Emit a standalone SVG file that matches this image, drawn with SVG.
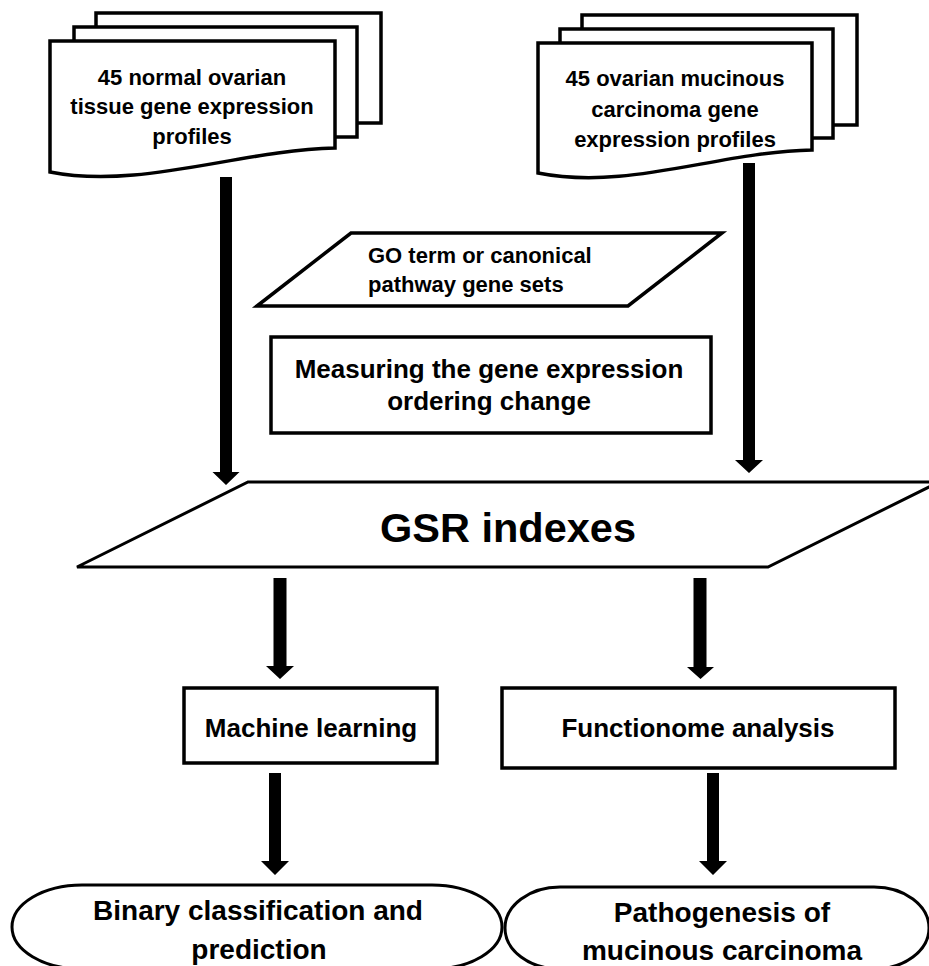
<svg xmlns="http://www.w3.org/2000/svg" width="929" height="966" viewBox="0 0 929 966">
<style>
.sh{fill:#fff;stroke:#000;stroke-width:3.5;stroke-linejoin:miter}
.thin{fill:#fff;stroke:#000;stroke-width:3}
.ar{fill:#000;stroke:none}
text{font-family:"Liberation Sans",Arial,sans-serif;font-weight:bold;fill:#000;text-anchor:middle}
.t22{font-size:22px}
.t26{font-size:26px}
.t28{font-size:28px}
</style>
<rect width="929" height="966" fill="#fff"/>

<g id="normal-profiles">
  <rect class="sh" x="96" y="13" width="285" height="110"/>
  <rect class="sh" x="74" y="27" width="283" height="110"/>
  <path class="sh" d="M50,41 H335 V148 C240,150 140,190 50,172 Z"/>
  <text class="t22" x="192" y="85">45 normal ovarian</text>
  <text class="t22" x="192" y="114">tissue gene expression</text>
  <text class="t22" x="192" y="144">profiles</text>
</g>

<g id="mucinous-profiles">
  <rect class="sh" x="582" y="15" width="275" height="110"/>
  <rect class="sh" x="560" y="29" width="273" height="109"/>
  <path class="sh" d="M538,43 H812 V150 C717,152 628,191 538,173 Z"/>
  <text class="t22" x="675" y="86">45 ovarian mucinous</text>
  <text class="t22" x="675" y="117">carcinoma gene</text>
  <text class="t22" x="675" y="147">expression profiles</text>
</g>

<g id="gene-sets">
  <polygon class="sh" points="351,233 722,233 628,306 257,306"/>
  <text class="t22" x="368" y="263" style="text-anchor:start">GO term or canonical</text>
  <text class="t22" x="368" y="292" style="text-anchor:start">pathway gene sets</text>
</g>

<g id="measuring">
  <rect class="sh" x="271" y="337" width="440" height="96"/>
  <text class="t26" x="489" y="378">Measuring the gene expression</text>
  <text class="t26" x="489" y="410">ordering change</text>
</g>

<g id="gsr">
  <polygon class="thin" points="248,482 939,482 768,567 77,567"/>
  <text x="508" y="542" style="font-size:41.5px">GSR indexes</text>
</g>

<g id="machine-learning">
  <rect class="sh" x="184" y="688" width="253" height="75"/>
  <text class="t26" x="311" y="737">Machine learning</text>
</g>

<g id="functionome">
  <rect class="sh" x="502" y="688" width="393" height="80"/>
  <text class="t26" x="698" y="737">Functionome analysis</text>
</g>

<g id="binary">
  <path class="thin" d="M82,885 H432 A70,42 0 0 1 432,969 H82 A70,42 0 0 1 82,885 Z"/>
  <text class="t28" x="258" y="920">Binary classification and</text>
  <text class="t28" x="259" y="959">prediction</text>
</g>

<g id="pathogenesis">
  <path class="thin" d="M560,887 H874 A55,41 0 0 1 874,969 H560 A55,41 0 0 1 560,887 Z"/>
  <text class="t28" x="722" y="922">Pathogenesis of</text>
  <text class="t28" x="722" y="960">mucinous carcinoma</text>
</g>

<g id="connectors">
  <polygon class="ar" points="220,177 232,177 232,472 239.5,472 226,485 212.5,472 220,472"/>
  <polygon class="ar" points="743,163 755,163 755,460 763,460 749,473 735,460 743,460"/>
  <polygon class="ar" points="273.5,578 286.5,578 286.5,666 294,666 280,679 266,666 273.5,666"/>
  <polygon class="ar" points="693.5,578 706.5,578 706.5,667 714,667 700.5,679 687,667 693.5,667"/>
  <polygon class="ar" points="269,773 281,773 281,861 289,861 275,875 261,861 269,861"/>
  <polygon class="ar" points="707,773 719,773 719,861 727,861 713,875 699,861 707,861"/>
</g>
</svg>
